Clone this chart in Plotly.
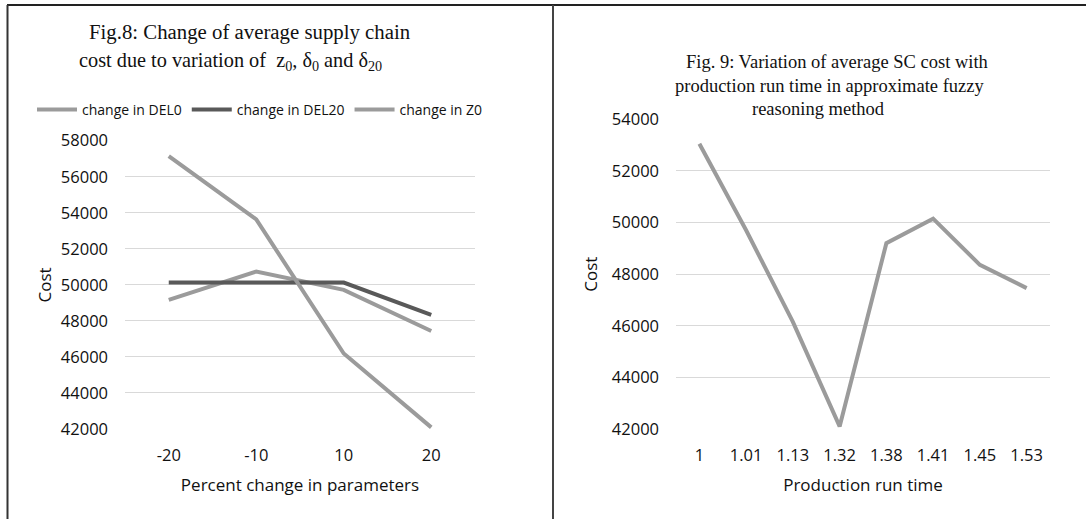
import plotly.graph_objects as go

W, H = 1086, 519

# ---- data: Fig. 8 ----
pct_categories = ["-20", "-10", "10", "20"]
del0_cost = [49170, 50740, 49720, 47440]
del20_cost = [50130, 50130, 50130, 48330]
z0_cost = [57150, 53630, 46190, 42090]

# ---- data: Fig. 9 ----
run_time_categories = ["1", "1.01", "1.13", "1.32", "1.38", "1.41", "1.45", "1.53"]
sc_cost = [53050, 49700, 46150, 42100, 49200, 50150, 48360, 47460]

left_yticks = [42000, 44000, 46000, 48000, 50000, 52000, 54000, 56000, 58000]
right_yticks = [42000, 44000, 46000, 48000, 50000, 52000, 54000]

LIGHT = "#9b9b9b"
DARK = "#595959"
GRID = "#d9d9d9"
SANS = "Open Sans"
SERIF = "Liberation Serif"


def px_x(x):
    return x / W


def px_y(y):
    return 1 - y / H


fig = go.Figure()
fig.add_trace(go.Scatter(x=pct_categories, y=del0_cost, name="change in DEL0",
                         mode="lines", line=dict(color=LIGHT, width=4),
                         xaxis="x", yaxis="y"))
fig.add_trace(go.Scatter(x=pct_categories, y=del20_cost, name="change in DEL20",
                         mode="lines", line=dict(color=DARK, width=4),
                         xaxis="x", yaxis="y"))
fig.add_trace(go.Scatter(x=pct_categories, y=z0_cost, name="change in Z0",
                         mode="lines", line=dict(color=LIGHT, width=4),
                         xaxis="x", yaxis="y"))
fig.add_trace(go.Scatter(x=run_time_categories, y=sc_cost, name="SC cost",
                         mode="lines", line=dict(color=LIGHT, width=4),
                         showlegend=False, xaxis="x2", yaxis="y2"))

tickfont = dict(family=SANS, size=16.5, color="#111")
titlefont = dict(family=SANS, size=17, color="#111")

common_x = dict(type="category", showgrid=False, showline=False, zeroline=False,
                ticks="", tickfont=tickfont, ticklabelstandoff=14, automargin=False)
common_y = dict(tickformat="d", showgrid=True, gridcolor=GRID, gridwidth=1.3,
                zeroline=False, showline=False, ticks="", tickfont=tickfont,
                ticklabelstandoff=16, automargin=False)

fig.update_layout(
    width=W, height=H,
    margin=dict(l=0, r=0, t=0, b=0, autoexpand=False),
    paper_bgcolor="white", plot_bgcolor="white",
    xaxis=dict(common_x, domain=[px_x(125), px_x(475)],
               range=[-0.5, len(pct_categories) - 0.5],
               title=dict(text="Percent change in parameters", font=titlefont, standoff=14)),
    yaxis=dict(common_y, domain=[px_y(429), px_y(140.7)], range=[42000, 58000],
               tickvals=left_yticks,
               title=dict(text="Cost", font=titlefont, standoff=4)),
    xaxis2=dict(common_x, domain=[px_x(676), px_x(1050)], anchor="y2",
                range=[-0.5, len(run_time_categories) - 0.5],
                title=dict(text="Production run time", font=titlefont, standoff=14)),
    yaxis2=dict(common_y, domain=[px_y(429), px_y(119.3)], range=[42000, 54000],
                tickvals=right_yticks, anchor="x2",
                title=dict(text="Cost", font=titlefont, standoff=9)),
    legend=dict(orientation="h", x=px_x(32), y=px_y(110), xanchor="left",
                yanchor="middle", font=dict(family=SANS, size=14, color="#111"),
                itemwidth=40, bgcolor="rgba(0,0,0,0)"),
    showlegend=True,
)

annotations = [
    dict(text="Fig.8: Change of average supply chain", x=px_x(87), y=px_y(32),
         xanchor="left", yanchor="middle", font=dict(family=SERIF, size=20.8, color="#111")),
    dict(text="cost due to variation of  z<sub>0</sub>, δ<sub>0</sub> and δ<sub>20</sub>",
         x=px_x(77), y=px_y(62), xanchor="left", yanchor="middle",
         font=dict(family=SERIF, size=20.3, color="#111")),
    dict(text="Fig. 9: Variation of average SC cost with", x=px_x(990), y=px_y(62),
         xanchor="right", yanchor="middle", font=dict(family=SERIF, size=18.5, color="#111")),
    dict(text="production run time in approximate fuzzy", x=px_x(830), y=px_y(86),
         xanchor="center", yanchor="middle", font=dict(family=SERIF, size=18.5, color="#111")),
    dict(text="reasoning method", x=px_x(818), y=px_y(109),
         xanchor="center", yanchor="middle", font=dict(family=SERIF, size=18.5, color="#111")),
]
for a in annotations:
    a.update(xref="paper", yref="paper", showarrow=False)
fig.update_layout(annotations=annotations)

shapes = [
    dict(type="line", x0=px_x(7), x1=1, y0=px_y(5), y1=px_y(5), line=dict(color="#222", width=2)),
    dict(type="line", x0=px_x(7.5), x1=px_x(7.5), y0=px_y(5), y1=0, line=dict(color="#333", width=2)),
    dict(type="line", x0=px_x(553), x1=px_x(553), y0=px_y(5), y1=0, line=dict(color="#444", width=2)),
]
for s in shapes:
    s.update(xref="paper", yref="paper")
fig.update_layout(shapes=shapes)

fig.write_html("out.html")
